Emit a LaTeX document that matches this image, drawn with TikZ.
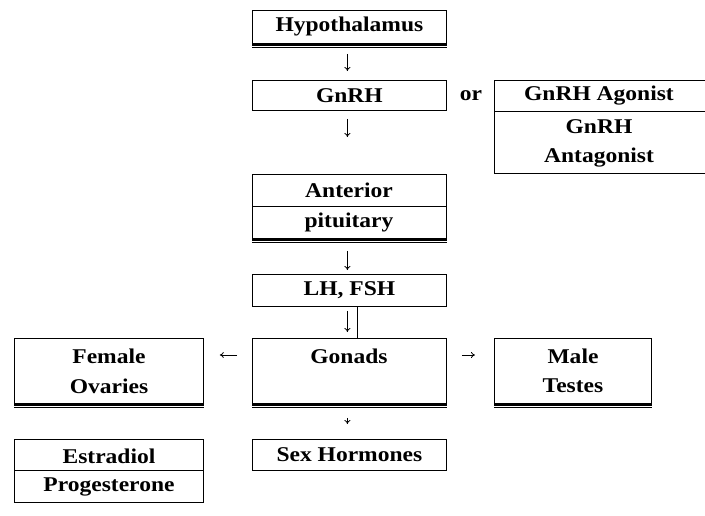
\documentclass[tikz,border=0pt]{standalone}
\usepackage{fontspec}
\setmainfont{Liberation Serif}[FakeStretch=1.12]
\usetikzlibrary{arrows.meta,positioning,calc}
\tikzset{
  box/.style={draw,line width=0.8pt,anchor=north west,inner sep=0pt,font=\bfseries\fontsize{21}{24}\selectfont,align=center},
  flow/.style={-{To[length=4pt,width=6pt]},line width=0.8pt},
}
\newcommand{\dblbase}[1]{%
  \draw[line width=2.2pt] ($(#1.south west)+(0,1.1)$) -- ($(#1.south east)+(0,1.1)$);
  \draw[line width=0.8pt] ($(#1.south west)+(0,4)$) -- ($(#1.south east)+(0,4)$);}
\begin{document}
\begin{tikzpicture}[x=1pt,y=-1pt]
\useasboundingbox (0,0) rectangle (705,515);
% central column
\node[box,minimum width=194pt,minimum height=33pt] (hyp) at (252,10) {Hypothalamus};
\node[box,minimum width=194pt,minimum height=30pt] (gnrh) at (252,80) {GnRH};
\node[box,minimum width=194pt,minimum height=64pt] (ant) at (252,174) {};
\node[box,minimum width=194pt,minimum height=32pt] (lh) at (252,274) {LH, FSH};
\node[box,minimum width=194pt,minimum height=65pt] (gon) at (252,338) {};
\node[box,minimum width=194pt,minimum height=31pt] (sex) at (252,439) {Sex Hormones};
% side boxes
\node[box,minimum width=211pt,minimum height=93pt] (ago) at (494,80) {};
\node[box,minimum width=189pt,minimum height=65pt] (fem) at (14,338) {};
\node[box,minimum width=157pt,minimum height=65pt] (male) at (494,338) {};
\node[box,minimum width=189pt,minimum height=63pt] (est) at (14,439) {};
% cell dividers
\draw[line width=0.8pt] ($(ant.north west)+(0,32)$) -- ($(ant.north east)+(0,32)$);
\draw[line width=0.8pt] ($(ago.north west)+(0,31)$) -- ($(ago.north east)+(0,31)$);
\draw[line width=0.8pt] ($(est.north west)+(0,31)$) -- ($(est.north east)+(0,31)$);
\dblbase{hyp}\dblbase{ant}\dblbase{gon}\dblbase{fem}\dblbase{male}
% cell texts
\begin{scope}[every node/.style={font=\bfseries\fontsize{21}{24}\selectfont}]
\node (antA) at (349,190) {Anterior};
\node (antB) at (349,222) {pituitary};
\node (gonT) at (349,356) {Gonads};
\node (agoA) at (599,96) {GnRH Agonist};
\node (agoB) at (599,127) {GnRH};
\node (agoC) at (599,158) {Antagonist};
\node (femA) at (109,356) {Female};
\node (femB) at (109,386) {Ovaries};
\node (maleA) at (573,356) {Male};
\node (maleB) at (573,386) {Testes};
\node (estA) at (109,456) {Estradiol};
\node (estB) at (109,487) {Progesterone};
\node (or) at (471,96) {or};
\end{scope}
% arrows
\draw[flow,shorten <=10pt,shorten >=9pt] ([xshift=-2pt]hyp.south) -- ([xshift=-2pt]gnrh.north);
\draw[flow,shorten <=8pt,shorten >=37pt] ([xshift=-2pt]gnrh.south) -- ([xshift=-2pt]ant.north);
\draw[flow,shorten <=12pt,shorten >=4pt] ([xshift=-2pt]ant.south) -- ([xshift=-2pt]lh.north);
\draw[flow,shorten <=4pt,shorten >=6pt] ([xshift=-2pt]lh.south) -- ([xshift=-2pt]gon.north);
\draw[line width=0.8pt] ([xshift=8pt]lh.south) -- ([xshift=8pt]gon.north);
\draw[flow,shorten <=14pt,shorten >=15pt] ([xshift=-2pt]gon.south) -- ([xshift=-2pt]sex.north);
\draw[flow,shorten <=15pt,shorten >=16pt] ([yshift=-17pt]gon.north west) -- ([yshift=-17pt]fem.north east);
\draw[flow,shorten <=15pt,shorten >=19pt] ([yshift=-17pt]gon.north east) -- ([yshift=-17pt]male.north west);
\end{tikzpicture}
\end{document}
